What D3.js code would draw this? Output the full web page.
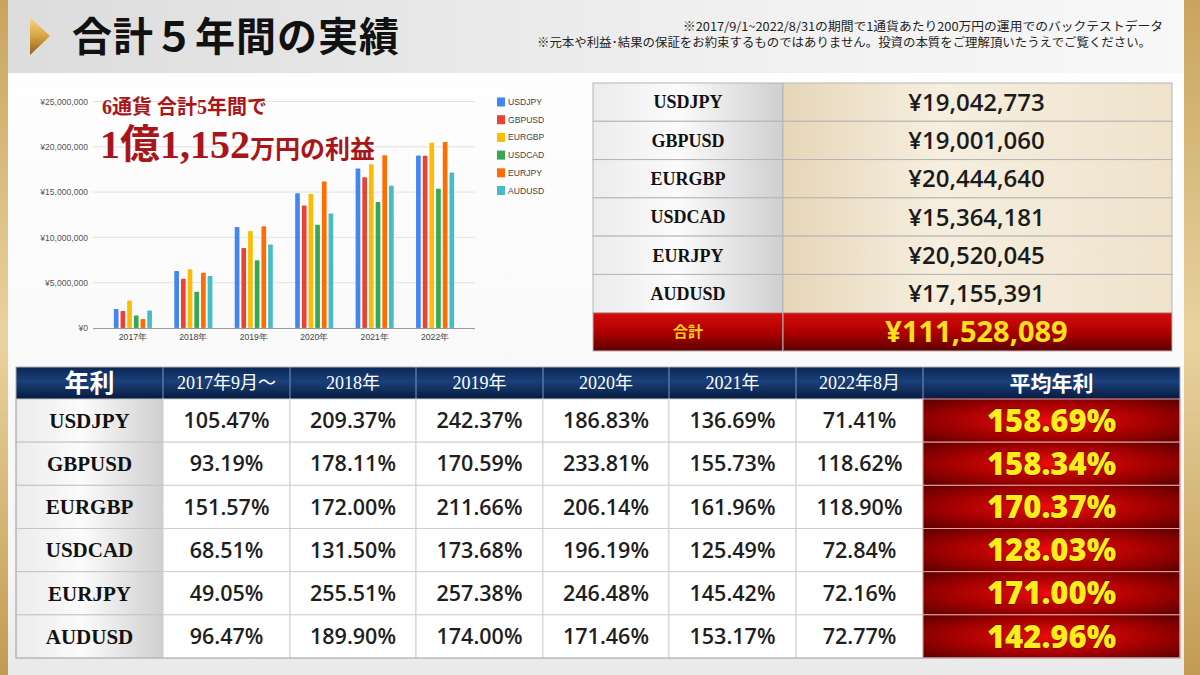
<!DOCTYPE html>
<html>
<head>
<meta charset="utf-8">
<script src="https://cdn.jsdelivr.net/npm/d3@7"></script>
<style>
  html, body { margin: 0; padding: 0; background: #fff; }
  svg { display: block; }
</style>
</head>
<body>
<div id="chart"></div>
<script>
// chart data
const years = ['2017年', '2018年', '2019年', '2020年', '2021年', '2022年'];
const currencies = ['USDJPY', 'GBPUSD', 'EURGBP', 'USDCAD', 'EURJPY', 'AUDUSD'];
const colors = ['#4285f4', '#ea4335', '#fbbc04', '#34a853', '#ff6d01', '#46bdc6'];

// cumulative profit per year (yen)
const usdjpyProfit = [2109400, 6296800, 11144200, 14880800, 17614600, 19042800];
const gbpusdProfit = [1863800, 5426000, 8837800, 13514000, 16628600, 19001000];
const eurgbpProfit = [3031400, 6471400, 10704600, 14827400, 18066600, 20444600];
const usdcadProfit = [1370200, 4000200, 7473800, 11397600, 13907400, 15364200];
const eurjpyProfit = [981000, 6091200, 11238800, 16168400, 19076800, 20520000];
const audusdProfit = [1929400, 5727400, 9207400, 12636600, 15700000, 17155400];
const yTicks = [0, 5000000, 10000000, 15000000, 20000000, 25000000];

// totals table
const totals = [19042773, 19001060, 20444640, 15364181, 20520045, 17155391];
const grandTotal = 111528089;

// annual rates table
const periodLabels = ['2017年9月～', '2018年', '2019年', '2020年', '2021年', '2022年8月'];
const usdjpyRates = [105.47, 209.37, 242.37, 186.83, 136.69, 71.41];
const gbpusdRates = [93.19, 178.11, 170.59, 233.81, 155.73, 118.62];
const eurgbpRates = [151.57, 172.00, 211.66, 206.14, 161.96, 118.90];
const usdcadRates = [68.51, 131.50, 173.68, 196.19, 125.49, 72.84];
const eurjpyRates = [49.05, 255.51, 257.38, 246.48, 145.42, 72.16];
const audusdRates = [96.47, 189.90, 174.00, 171.46, 153.17, 72.77];
const avgRates = [158.69, 158.34, 170.37, 128.03, 171.00, 142.96];

const profits = [usdjpyProfit, gbpusdProfit, eurgbpProfit, usdcadProfit, eurjpyProfit, audusdProfit];
const rates = [usdjpyRates, gbpusdRates, eurgbpRates, usdcadRates, eurjpyRates, audusdRates];

const width = 1200;
const height = 675;
const serif = '"Liberation Serif", "Noto Sans CJK JP", serif';
const sans = '"Open Sans", "Noto Sans", sans-serif';
const jp = '"Noto Sans CJK JP", sans-serif';

const fmtYen = d => '¥' + d3.format(',')(d);
const fmtPct = d => d3.format('.2f')(d) + '%';

const svg = d3.select('#chart')
    .append('svg')
    .attr('width', width)
    .attr('height', height);

const defs = svg.append('defs');

function linGrad(id, stops, x2, y2) {
    const g = defs.append('linearGradient').attr('id', id)
        .attr('x1', 0).attr('y1', 0).attr('x2', x2).attr('y2', y2);
    stops.forEach(s => g.append('stop').attr('offset', s[0]).attr('stop-color', s[1]));
}
linGrad('gHeader', [[0, '#dcdcdc'], [0.6, '#f0f0f0'], [1, '#f8f8f8']], 1, 0);
linGrad('gGold', [[0, '#c9a45e'], [0.5, '#e9d3a0'], [1, '#c39a52']], 0, 1);
linGrad('gTri', [[0, '#f7da86'], [0.5, '#d9a444'], [1, '#8f5d17']], 0, 1);
linGrad('gLabel', [[0, '#ececec'], [0.45, '#fbfbfb'], [1, '#cfcfcf']], 1, 0);
linGrad('gBeige', [[0, '#e6d6b8'], [0.4, '#f6eedf'], [1, '#efe3cc']], 1, 0);
linGrad('gRed', [[0, '#d50c0c'], [0.5, '#b00000'], [1, '#5e0000']], 0, 1);
linGrad('gNavy', [[0, '#0a2656'], [0.45, '#1a4179'], [1, '#061a40']], 0, 1);
linGrad('gBottom', [[0, '#ffffff'], [0.85, '#f6f6f6'], [1, '#e9e9e9']], 0, 1);
const rg = defs.append('radialGradient').attr('id', 'gAvg')
    .attr('cx', 0.5).attr('cy', 0.5).attr('r', 0.75);
rg.append('stop').attr('offset', 0).attr('stop-color', '#ee0b0b');
rg.append('stop').attr('offset', 0.55).attr('stop-color', '#a00000');
rg.append('stop').attr('offset', 1).attr('stop-color', '#4f0000');

// background
svg.append('rect').attr('width', width).attr('height', height).attr('fill', 'url(#gBottom)');
svg.append('rect').attr('width', width).attr('height', 73).attr('fill', 'url(#gHeader)');
svg.append('rect').attr('x', 0).attr('width', 8).attr('height', height).attr('fill', 'url(#gGold)');
svg.append('rect').attr('x', 1184).attr('width', 16).attr('height', height).attr('fill', 'url(#gGold)');

// header
svg.append('path').attr('d', 'M30,17 L50,36 L30,55 Z').attr('fill', 'url(#gTri)');
svg.append('text')
    .attr('x', 72).attr('y', 51)
    .attr('font-family', jp).attr('font-weight', 700).attr('font-size', 40)
    .attr('letter-spacing', 1).attr('fill', '#111')
    .text('合計５年間の実績');
svg.append('text')
    .attr('x', 1163).attr('y', 31).attr('text-anchor', 'end')
    .attr('font-family', jp).attr('font-size', 12).attr('fill', '#222')
    .attr('textLength', 480).attr('lengthAdjust', 'spacingAndGlyphs')
    .text('※2017/9/1~2022/8/31の期間で1通貨あたり200万円の運用でのバックテストデータ');
svg.append('text')
    .attr('x', 1151).attr('y', 47).attr('text-anchor', 'end')
    .attr('font-family', jp).attr('font-size', 12).attr('fill', '#222')
    .attr('textLength', 614).attr('lengthAdjust', 'spacingAndGlyphs')
    .text('※元本や利益･結果の保証をお約束するものではありません。投資の本質をご理解頂いたうえでご覧ください。');

// ---- bar chart ----
const chart = svg.append('g');

const x0 = d3.scaleBand()
    .domain(years)
    .range([93, 475])
    .paddingInner(0.37)
    .paddingOuter(0.345);

const x1 = d3.scaleBand()
    .domain(currencies)
    .range([0, x0.bandwidth()])
    .paddingInner(0.3);

const y = d3.scaleLinear()
    .domain([0, 25000000])
    .range([328, 101.5]);

const colorScale = d3.scaleOrdinal().domain(currencies).range(colors);

chart.selectAll('.grid')
    .data(yTicks.slice(1))
    .enter()
    .append('line')
    .attr('x1', 93).attr('x2', 475)
    .attr('y1', d => y(d)).attr('y2', d => y(d))
    .attr('stroke', '#e2e2e2').attr('stroke-width', 1);

const yAxis = chart.append('g')
    .attr('transform', 'translate(88,0)')
    .call(d3.axisLeft(y).tickValues(yTicks).tickSize(0).tickPadding(0).tickFormat(fmtYen));
yAxis.select('.domain').remove();
yAxis.selectAll('text')
    .attr('font-family', '"Liberation Sans", Arial, sans-serif')
    .attr('font-size', 8.6).attr('fill', '#555');

const groups = chart.selectAll('.year')
    .data(years)
    .enter()
    .append('g')
    .attr('transform', d => `translate(${x0(d)},0)`);

groups.selectAll('rect')
    .data((d, i) => currencies.map((c, j) => ({ c: c, v: profits[j][i] })))
    .enter()
    .append('rect')
    .attr('x', d => x1(d.c))
    .attr('y', d => y(d.v))
    .attr('width', x1.bandwidth())
    .attr('height', d => y(0) - y(d.v))
    .attr('rx', 0.8)
    .attr('fill', d => colorScale(d.c));

const xAxis = chart.append('g')
    .attr('transform', 'translate(0,328)')
    .call(d3.axisBottom(x0).tickSize(0).tickPadding(6));
xAxis.select('.domain').attr('stroke', '#999').attr('d', 'M93,0.5H475');
xAxis.selectAll('text')
    .attr('font-family', '"Liberation Sans", Arial, sans-serif')
    .attr('font-size', 8.6).attr('fill', '#444');

// legend
const legend = chart.selectAll('.legend')
    .data(currencies)
    .enter()
    .append('g')
    .attr('transform', (d, i) => `translate(497,${102 + i * 17.7})`);
legend.append('rect')
    .attr('x', 0).attr('y', -4.5).attr('width', 8).attr('height', 9)
    .attr('fill', d => colorScale(d));
legend.append('text')
    .attr('x', 11).attr('dy', '0.35em')
    .attr('font-family', '"Liberation Sans", Arial, sans-serif')
    .attr('font-size', 8.6).attr('fill', '#444')
    .text(d => d);

// headline over the chart
const headline = chart.append('g').attr('fill', '#a8161a')
    .attr('font-family', serif).attr('font-weight', 700);
headline.append('text')
    .attr('x', 102).attr('y', 114).attr('font-size', 20)
    .text('6通貨 合計5年間で');
const big = headline.append('text').attr('x', 100).attr('y', 158);
big.append('tspan').attr('font-size', 40).text('1億1,152');
big.append('tspan').attr('font-size', 25).text('万円の利益');

// ---- totals table (top right) ----
const tRows = d3.scaleBand()
    .domain([...currencies, '合計'])
    .range([83, 351]);
const tLeft = 593, tMid = 783, tRight = 1172;

const trow = svg.selectAll('.trow')
    .data([...currencies, '合計'])
    .enter()
    .append('g')
    .attr('transform', d => `translate(0,${tRows(d)})`);

trow.append('rect')
    .attr('x', tLeft).attr('width', tMid - tLeft).attr('height', tRows.bandwidth())
    .attr('fill', d => d === '合計' ? 'url(#gRed)' : 'url(#gLabel)')
    .attr('stroke', '#b5b5b5');
trow.append('rect')
    .attr('x', tMid).attr('width', tRight - tMid).attr('height', tRows.bandwidth())
    .attr('fill', d => d === '合計' ? 'url(#gRed)' : 'url(#gBeige)')
    .attr('stroke', '#b5b5b5');
trow.append('text')
    .attr('x', (tLeft + tMid) / 2).attr('y', tRows.bandwidth() / 2).attr('dy', '0.35em')
    .attr('text-anchor', 'middle')
    .attr('font-family', d => d === '合計' ? jp : serif)
    .attr('font-weight', 700)
    .attr('font-size', d => d === '合計' ? 15 : 18)
    .attr('fill', d => d === '合計' ? '#ffd21a' : '#111')
    .text(d => d);
trow.append('text')
    .attr('x', (tMid + tRight) / 2 - 1).attr('y', tRows.bandwidth() / 2).attr('dy', '0.36em')
    .attr('text-anchor', 'middle')
    .attr('font-family', sans)
    .attr('font-weight', d => d === '合計' ? 700 : 600)
    .attr('font-size', d => d === '合計' ? 29 : 24)
    .attr('fill', d => d === '合計' ? '#ffe01f' : '#1b1b1b')
    .text((d, i) => fmtYen(d === '合計' ? grandTotal : totals[i]));

// ---- annual rate table (bottom) ----
const colEdges = [16, 163, 290, 416, 543, 669, 796, 923, 1180];
const headTop = 367, headBottom = 399;
const bRows = d3.scaleBand()
    .domain(currencies)
    .range([headBottom, 658]);

const head = svg.append('g');
head.append('rect')
    .attr('x', colEdges[0]).attr('y', headTop)
    .attr('width', colEdges[8] - colEdges[0]).attr('height', headBottom - headTop)
    .attr('fill', 'url(#gNavy)');
const headLabels = ['年利', ...periodLabels, '平均年利'];
head.selectAll('line')
    .data(colEdges.slice(1, 8))
    .enter()
    .append('line')
    .attr('x1', d => d).attr('x2', d => d)
    .attr('y1', headTop).attr('y2', headBottom)
    .attr('stroke', '#7f95b8').attr('stroke-width', 1);
head.selectAll('text')
    .data(headLabels)
    .enter()
    .append('text')
    .attr('x', (d, i) => (colEdges[i] + colEdges[i + 1]) / 2)
    .attr('y', (headTop + headBottom) / 2).attr('dy', '0.36em')
    .attr('text-anchor', 'middle')
    .attr('font-family', serif)
    .attr('font-weight', (d, i) => (i === 0 || i === 7) ? 700 : 400)
    .attr('font-size', (d, i) => i === 0 ? 25 : i === 7 ? 21 : 18)
    .attr('fill', '#fff')
    .text(d => d);

const brow = svg.selectAll('.brow')
    .data(currencies)
    .enter()
    .append('g')
    .attr('transform', d => `translate(0,${bRows(d)})`);

brow.append('rect')
    .attr('x', colEdges[0]).attr('width', colEdges[1] - colEdges[0]).attr('height', bRows.bandwidth())
    .attr('fill', 'url(#gLabel)').attr('stroke', '#c4c4c4');
brow.append('text')
    .attr('x', (colEdges[0] + colEdges[1]) / 2).attr('y', bRows.bandwidth() / 2).attr('dy', '0.35em')
    .attr('text-anchor', 'middle')
    .attr('font-family', serif).attr('font-weight', 700).attr('font-size', 21)
    .attr('fill', '#111')
    .text(d => d);

brow.selectAll('.cell')
    .data((d, i) => rates[i])
    .enter()
    .append('rect')
    .attr('x', (d, j) => colEdges[j + 1]).attr('width', (d, j) => colEdges[j + 2] - colEdges[j + 1])
    .attr('height', bRows.bandwidth())
    .attr('fill', '#fff').attr('stroke', '#cfcfcf');
brow.selectAll('.val')
    .data((d, i) => rates[i])
    .enter()
    .append('text')
    .attr('x', (d, j) => (colEdges[j + 1] + colEdges[j + 2]) / 2)
    .attr('y', bRows.bandwidth() / 2).attr('dy', '0.36em')
    .attr('text-anchor', 'middle')
    .attr('font-family', sans).attr('font-weight', 600).attr('font-size', 21.5)
    .attr('fill', '#1e1e1e')
    .text(d => fmtPct(d));

brow.append('rect')
    .attr('x', colEdges[7]).attr('width', colEdges[8] - colEdges[7]).attr('height', bRows.bandwidth())
    .attr('fill', 'url(#gAvg)').attr('stroke', '#e7a0a0').attr('stroke-width', 1);
brow.append('text')
    .attr('x', (colEdges[7] + colEdges[8]) / 2).attr('y', bRows.bandwidth() / 2).attr('dy', '0.36em')
    .attr('text-anchor', 'middle')
    .attr('font-family', sans).attr('font-weight', 800).attr('font-size', 31)
    .attr('fill', '#ffec1c')
    .attr('stroke', '#6a0000').attr('stroke-width', 1).attr('paint-order', 'stroke')
    .text((d, i) => fmtPct(avgRates[i]));

// outer border of bottom table
svg.append('rect')
    .attr('x', colEdges[0]).attr('y', headTop)
    .attr('width', colEdges[8] - colEdges[0]).attr('height', 658 - headTop)
    .attr('fill', 'none').attr('stroke', '#b0b0b0');
</script>
</body>
</html>
